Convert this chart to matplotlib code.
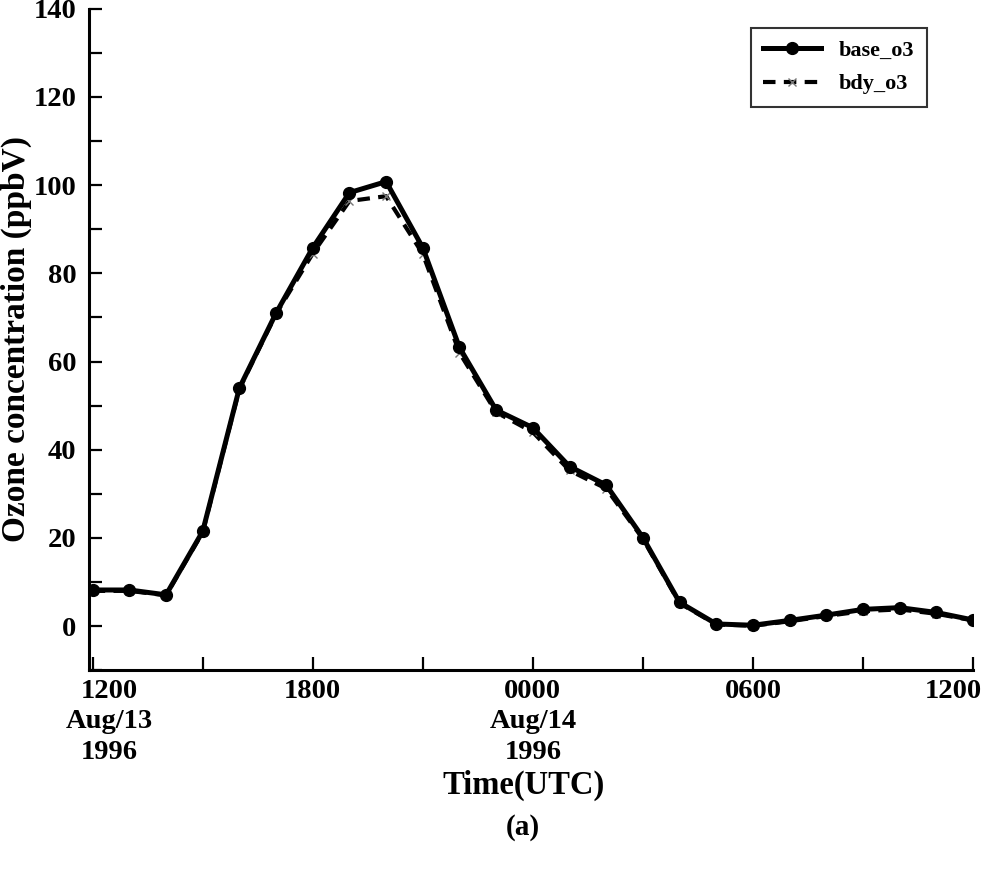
import numpy as np
import matplotlib.pyplot as plt
import matplotlib.transforms as mtransforms
from matplotlib.ticker import MultipleLocator

plt.rcParams['font.family'] = ['Liberation Serif', 'DejaVu Serif']
plt.rcParams['font.weight'] = 'bold'

# hours after 1200 UTC Aug/13 1996
hours = list(range(25))
base_o3 = [8.2, 8.2, 7.1, 21.5, 54.0, 71.0, 85.8, 98.3, 100.8, 85.8, 63.2, 49.0, 45.0,
           36.2, 32.0, 20.1, 5.4, 0.5, 0.2, 1.3, 2.5, 3.8, 4.2, 3.1, 1.4]
bdy_o3 = [8.0, 8.0, 7.0, 21.3, 53.8, 70.8, 84.5, 96.4, 97.5, 84.4, 62.0, 48.5, 44.0,
          35.3, 31.2, 19.8, 5.2, 0.4, 0.1, 1.1, 2.3, 3.4, 3.8, 2.8, 1.3]

tick_pos = [0, 6, 12, 18, 24]
tick_labels = ['1200\nAug/13\n1996', '1800', '0000\nAug/14\n1996', '0600', '1200']

fig = plt.figure(figsize=(10, 8.75), dpi=100)
ax = fig.add_axes([0.089, 0.234, 0.884, 0.756])

ax.plot(hours, bdy_o3, color='black', linestyle='--', linewidth=3.0,
        marker='x', markersize=6, markeredgecolor='#777777', markeredgewidth=1.0,
        dashes=(3, 2), label='bdy_o3', zorder=2)
ax.plot(hours, base_o3, color='black', linewidth=3.6, marker='o', markersize=8.5,
        label='base_o3', zorder=3)

ax.set_xlim(-0.1, 24)
ax.set_ylim(-10, 140)
ax.set_xticks(tick_pos)
ax.set_xticklabels(tick_labels, fontsize=20.5, fontweight='bold', linespacing=1.3)
ax.xaxis.set_minor_locator(MultipleLocator(3))
ax.set_yticks(range(0, 141, 20))
ax.yaxis.set_minor_locator(MultipleLocator(10))
for lab in ax.get_yticklabels():
    lab.set_fontsize(20.5)
    lab.set_fontweight('bold')

ax.tick_params(which='both', direction='in', width=1.6, length=9.5)
ax.tick_params(axis='x', pad=6)
ax.tick_params(axis='y', pad=9)

# first and last time labels sit a little inside the ends of the axis
xlabs = ax.get_xticklabels()
xlabs[0].set_transform(xlabs[0].get_transform() +
                       mtransforms.ScaledTranslation(0.17, 0, fig.dpi_scale_trans))
xlabs[-1].set_transform(xlabs[-1].get_transform() +
                        mtransforms.ScaledTranslation(-0.20, 0, fig.dpi_scale_trans))

for s in ['top', 'right']:
    ax.spines[s].set_visible(False)
for s in ['left', 'bottom']:
    ax.spines[s].set_linewidth(2.2)

fig.text(0.016, 0.612, 'Ozone concentration (ppbV)', fontsize=24, fontweight='bold',
         rotation=90, ha='center', va='center')
fig.text(0.524, 0.102, 'Time(UTC)', fontsize=23.5, fontweight='bold', ha='center', va='center')
fig.text(0.523, 0.054, '(a)', fontsize=21, fontweight='bold', ha='center', va='center')

handles, labels = ax.get_legend_handles_labels()
leg = ax.legend(handles[::-1], labels[::-1], loc='upper right', bbox_to_anchor=(0.96, 0.988),
                fontsize=16, frameon=True, fancybox=False, handlelength=2.6,
                borderpad=0.55, labelspacing=0.6)
leg.get_frame().set_edgecolor('black')
leg.get_frame().set_linewidth(1.5)

fig.savefig('out.png', dpi=100)
